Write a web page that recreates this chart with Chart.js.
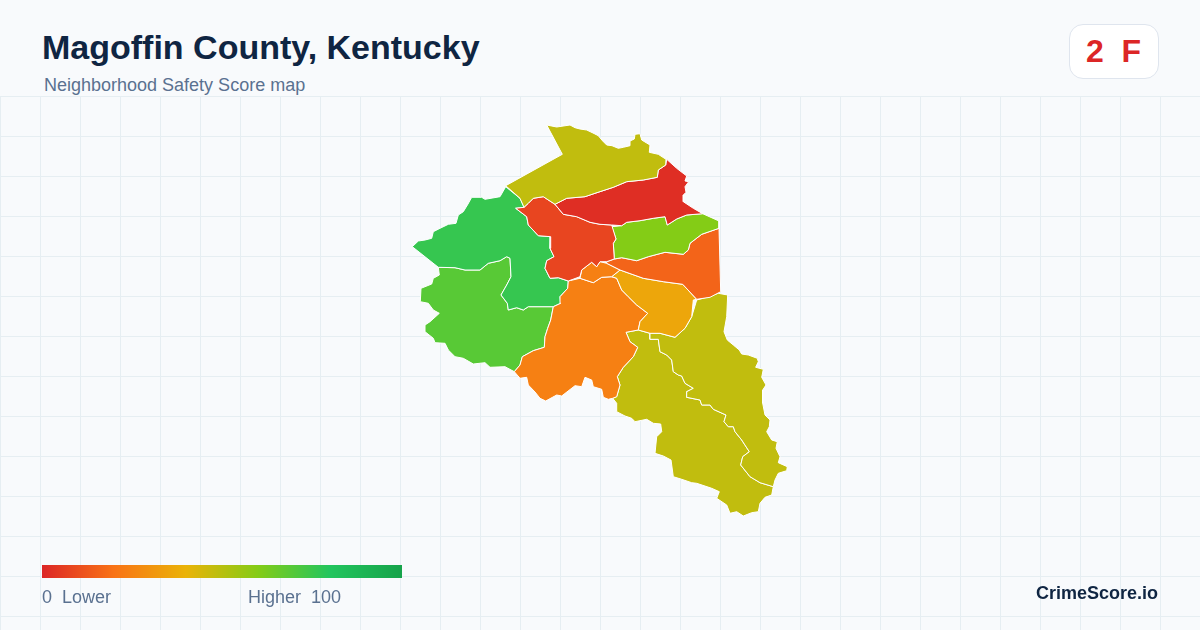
<!DOCTYPE html>
<html>
<head>
<meta charset="utf-8">
<title>Magoffin County, Kentucky</title>
<script src="https://cdn.jsdelivr.net/npm/chart.js@4/dist/chart.umd.min.js"></script>
<style>
  html, body { margin: 0; padding: 0; }
  body { width: 1200px; height: 630px; overflow: hidden; position: relative; background: #f8fafc; font-family: "Liberation Sans", Arial, sans-serif; }
  #map { position: absolute; left: 0; top: 96px; }
  .txt { position: absolute; white-space: pre; }
  #title { left: 42px; top: 27px; font-size: 34px; line-height: 40px; font-weight: 700; color: #0f2542; }
  #sub { left: 44px; top: 75px; font-size: 18px; line-height: 20px; color: #5a7190; }
  #badge { position: absolute; left: 1069px; top: 24px; width: 88px; height: 53px; background: #fff; border: 1px solid #dfe5ee; border-radius: 14px; }
  #grade { left: 1086px; top: 31px; font-size: 32px; line-height: 40px; font-weight: 700; color: #dc2626; }
  #bar { position: absolute; left: 42px; top: 565px; width: 360px; height: 13px; }
  #low { left: 42px; top: 587px; font-size: 18px; line-height: 20px; color: #5a7190; }
  #high { right: 859px; top: 587px; font-size: 18px; line-height: 20px; color: #5a7190; }
  #brand { right: 42px; top: 582px; font-size: 18px; line-height: 22px; font-weight: 700; color: #0f2542; }
</style>
</head>
<body>
<canvas id="map" width="1200" height="534"></canvas>
<div class="txt" id="title">Magoffin County, Kentucky</div>
<div class="txt" id="sub">Neighborhood Safety Score map</div>
<div id="badge"></div>
<div class="txt" id="grade">2  F</div>
<div id="bar"></div>
<div class="txt" id="low">0  Lower</div>
<div class="txt" id="high">Higher  100</div>
<div class="txt" id="brand">CrimeScore.io</div>
<script>
// score per area, colour comes from the legend ramp
const rampStops = [0, 20, 40, 60, 80, 100];
const rampColors = [[220, 38, 38], [249, 115, 22], [234, 179, 8], [132, 204, 22], [34, 197, 94], [22, 163, 74]];

const gridX = [0.5, 40.5, 80.5, 120.5, 160.5, 200.5, 240.5, 280.5, 320.5, 360.5, 400.5, 440.5, 480.5, 520.5, 560.5, 600.5, 640.5, 680.5, 720.5, 760.5, 800.5, 840.5, 880.5, 920.5, 960.5, 1000.5, 1040.5, 1080.5, 1120.5, 1160.5];
const gridY = [96.5, 136.5, 176.5, 216.5, 256.5, 296.5, 336.5, 376.5, 416.5, 456.5, 496.5, 536.5, 576.5, 616.5];

// outlines, in map units
const north = [[546.7,125],[556.7,127],[570,125],[575,127.7],[580,129],[586.7,130],[593,133],[598.3,135.7],[602.7,141],[606.7,145],[612,145.7],[618.3,148.3],[623.3,147.3],[630,145.7],[630,141],[634.3,139],[635,134.3],[640,133.7],[641.7,140],[650,145],[649.3,152.3],[658.3,154.3],[666,159.3],[665.7,165],[658.3,170],[657.3,177.3],[643.3,180],[626.7,181.7],[613.3,187.3],[595,193.3],[585,196.7],[566.7,198.3],[555,204.3],[543.3,196.7],[533.3,198.3],[528.3,203.3],[524,207.3],[520,198.3],[505.7,185.7],[562.3,154.3]];
const redArea = [[666.7,159.3],[676.7,168.3],[686.7,176],[685,181],[688.7,181.7],[685,186.7],[686,192.3],[683.3,195],[683.3,201.7],[693.3,208.3],[702.7,213.7],[686.7,215],[676.7,219],[667.3,225],[665,216.7],[653.3,218.3],[640,220.7],[626.7,222.3],[621.7,225.7],[611.7,225],[600,224.3],[590,222.3],[576.7,216.7],[563.3,214.3],[555,204.3],[566.7,198.3],[585,196.7],[595,193.3],[613.3,187.3],[626.7,181.7],[643.3,180],[657.3,177.3],[658.3,170],[665.7,165]];
const centre = [[515.7,208.3],[524,207.3],[528.3,203.3],[533.3,198.3],[543.3,196.7],[555,204.3],[563.3,214.3],[576.7,216.7],[590,222.3],[600,224.3],[611.7,225],[616,239],[613.3,243.3],[614.3,259],[606.7,261.7],[600,261.7],[596.7,266.7],[591.7,262.3],[581.7,270],[580,276.7],[568.3,281],[558.3,277.7],[550,278.3],[545,268.3],[546.7,260.7],[554,256.7],[550,248.3],[550.7,236.7],[538.3,235.7],[528.3,225],[526.7,216.7]];
const limeArea = [[611.7,226.7],[621.7,225.7],[626.7,222.3],[640,220.7],[653.3,218.3],[665,216.7],[667.3,225],[676.7,219],[686.7,215],[702.7,213.7],[719,221],[719,228.3],[701.7,234.3],[690,243.3],[688.3,250],[683.3,254.3],[665,252.3],[648.3,256.7],[636.7,260.7],[621.7,257.7],[614.3,259],[613.3,243.3],[616,239]];
const eastEdge = [[719,228.3],[720.7,291.7],[710,297.3],[696.7,299.3],[682.7,284.3],[663.3,281.7],[643.3,278.3],[620,270],[606.7,263.3],[606.7,261.7],[614.3,259],[621.7,257.7],[636.7,260.7],[648.3,256.7],[665,252.3],[683.3,254.3],[688.3,250],[690,243.3],[701.7,234.3]];
const blob = [[591.7,262.3],[596.7,266.7],[600,261.7],[606.7,263.3],[620,270],[611.7,276.7],[601.7,277.3],[593.3,282.7],[580,278.3],[581.7,270]];
const amber = [[620,270],[643.3,278.3],[663.3,281.7],[682.7,284.3],[696.7,299.3],[693.3,300],[691.7,316.7],[685,328.3],[675,337.3],[660,333.3],[650,333.3],[638.3,330],[640,321.7],[647.7,313.3],[636.7,305],[628.3,296.7],[621.7,290],[616.7,278.3],[611.7,276.7]];
const orange = [[568.3,281],[580,278.3],[593.3,282.7],[601.7,277.3],[611.7,276.7],[616.7,278.3],[621.7,290],[628.3,296.7],[636.7,305],[647.7,313.3],[640,321.7],[638.3,330],[626,332.3],[630,341.7],[637.7,347.3],[633.3,356.7],[623.3,367.3],[617.3,376.7],[620,385],[616.7,396.7],[612.7,398.3],[608.3,399.3],[603.3,397.3],[601.7,389.3],[593.3,386.7],[591.7,380],[585,377.3],[581.7,386.7],[575,385.7],[561.7,396],[556.7,395],[545.7,401],[540,398.3],[535,392],[528.3,385],[526.7,377.3],[520,378.3],[514.3,371.7],[520,365],[522.3,356.7],[533.3,350.7],[544.3,347.3],[545,336.7],[547.7,328.3],[550.7,320],[553.3,306.7],[560.7,303.3],[560,296.7],[567.7,288.3]];
const greenWest = [[412.3,246.7],[418.3,241],[425,240],[431.7,238.3],[433.3,231.7],[440,228.3],[448.3,224.3],[456,223.3],[458.3,215],[463.3,211.7],[468,204],[471.7,197.3],[481.7,197.3],[485,199.3],[500,196.7],[505.7,186.7],[520,198.3],[524,207.3],[515.7,208.3],[526.7,216.7],[528.3,225],[538.3,235.7],[550.7,236.7],[550,248.3],[554,256.7],[546.7,260.7],[545,268.3],[550,278.3],[558.3,277.7],[568.3,281],[567.7,288.3],[560,296.7],[560.7,303.3],[553.3,306.7],[540,306.7],[528.3,306.7],[523.3,310],[516.7,307.7],[508.3,310],[507.3,303.3],[501,295],[506.7,285],[511,276.7],[510,258.3],[506.7,256.7],[500,260.7],[488.3,263.3],[480,270],[465,270],[455,267.7],[438.3,267.3]];
const greenSouth = [[438.3,267.3],[455,267.7],[465,270],[480,270],[488.3,263.3],[500,260.7],[506.7,256.7],[510,258.3],[511,276.7],[506.7,285],[501,295],[507.3,303.3],[508.3,310],[516.7,307.7],[523.3,310],[528.3,306.7],[540,306.7],[553.3,306.7],[550.7,320],[547.7,328.3],[545,336.7],[544.3,347.3],[533.3,350.7],[522.3,356.7],[520,365],[514.3,371.7],[505,366.7],[490,367.3],[485,362.7],[473.3,364],[463.3,358.3],[455,356.7],[448.3,350],[445,343.3],[435,342.7],[433.3,338.3],[425,331.7],[425,325],[430,321.7],[439.3,313.3],[433.3,310],[428.3,303.3],[420.3,301.7],[421,288.3],[431.7,284],[433.3,278.3],[439.3,275]];
const eastOlive = [[696.7,300],[706.7,297.3],[718.3,293.3],[727.7,295],[726.7,316.7],[724,331.7],[727.3,340],[733.3,345],[739.3,350],[741.7,354],[748.3,355],[757.3,358.3],[758.3,361.7],[755.7,367.3],[763.3,369.3],[761.7,377.3],[766,385],[762.7,390],[762.7,403.3],[765,415],[770,420],[769.3,426.7],[766.7,431.7],[771.7,440],[777.3,441.7],[776,448.3],[780,456.7],[778.3,462.7],[787.3,466.7],[786.7,470.7],[778.3,473.3],[775,480],[773.3,486.7],[760,482.7],[750,476.7],[740.7,465],[742.7,456.7],[749.3,451.7],[741.7,440],[735,431.7],[733.3,426.7],[728.3,426.7],[724,421.7],[726,415],[713.3,409.3],[710,405],[701.7,405],[700,400],[686.7,397.3],[686.7,391.7],[693.3,388.3],[685,383.3],[681.7,376],[678.3,375],[673.3,371.7],[671.7,360],[666.7,355],[660,351.7],[658.3,339.3],[650,339.3],[650,333.3],[660,333.3],[675,337.3],[685,328.3],[691.7,316.7]];
const southOlive = [[626,332.3],[638.3,330],[650,333.3],[650,339.3],[658.3,339.3],[660,351.7],[666.7,355],[671.7,360],[673.3,371.7],[678.3,375],[681.7,376],[685,383.3],[693.3,388.3],[686.7,391.7],[686.7,397.3],[700,400],[701.7,405],[710,405],[713.3,409.3],[726,415],[724,421.7],[728.3,426.7],[733.3,426.7],[735,431.7],[741.7,440],[749.3,451.7],[742.7,456.7],[740.7,465],[750,476.7],[760,482.7],[773.3,486.7],[771.7,495],[765,497.3],[760,503.3],[758.3,511.7],[751.7,512.7],[743.3,516],[736.7,511.7],[730,513.3],[726.7,505],[716.7,498.3],[719.3,491.7],[711.7,488.3],[696.7,483.3],[691.7,482.7],[681.7,479.3],[673.3,476.7],[671,460],[663.3,456],[655,453.3],[656.7,436.7],[661.7,431.7],[660.7,424],[653.3,423.3],[646.7,419.3],[635,421.7],[631.7,418.3],[625,416],[616.7,411.7],[616.7,403.3],[612.7,398.3],[616.7,396.7],[620,385],[617.3,376.7],[623.3,367.3],[633.3,356.7],[637.7,347.3],[630,341.7]];

const areas = [north, redArea, centre, limeArea, eastEdge, blob, amber, orange, greenWest, greenSouth, eastOlive, southOlive];
const scores = [48, 2, 8, 60, 16, 24, 36, 24, 76, 69, 48, 48];

function scoreColor(s) {
  let i = 0;
  while (i < rampStops.length - 2 && s > rampStops[i + 1]) i++;
  const t = (s - rampStops[i]) / (rampStops[i + 1] - rampStops[i]);
  const c = rampColors[i].map((v, k) => Math.round(v + (rampColors[i + 1][k] - v) * t));
  return `rgb(${c[0]},${c[1]},${c[2]})`;
}

// legend bar uses the same ramp
document.getElementById("bar").style.background =
  "linear-gradient(to right," + rampStops.map((s) => scoreColor(s) + " " + s + "%").join(",") + ")";

new Chart(document.getElementById("map"), {
  type: "scatter",
  data: {
    datasets: areas.map((a, i) => ({
      data: a.concat([a[0]]).map((p) => ({ x: p[0], y: p[1] })),
      showLine: true,
      fill: "shape",
      tension: 0,
      pointRadius: 0,
      borderWidth: 1,
      borderColor: "#ffffff",
      backgroundColor: scoreColor(scores[i]),
    })),
  },
  options: {
    responsive: false,
    animation: false,
    layout: { padding: 0 },
    plugins: { legend: { display: false }, tooltip: { enabled: false } },
    scales: {
      x: {
        type: "linear", min: 0, max: 1200,
        afterBuildTicks: (s) => { s.ticks = gridX.map((v) => ({ value: v })); },
        ticks: { display: false },
        border: { display: false },
        grid: { color: "#e6eef2", lineWidth: 1, drawTicks: false },
      },
      y: {
        type: "linear", min: 96, max: 630, reverse: true,
        afterBuildTicks: (s) => { s.ticks = gridY.map((v) => ({ value: v })); },
        ticks: { display: false },
        border: { display: false },
        grid: { color: "#e6eef2", lineWidth: 1, drawTicks: false },
      },
    },
  },
});
</script>
</body>
</html>
